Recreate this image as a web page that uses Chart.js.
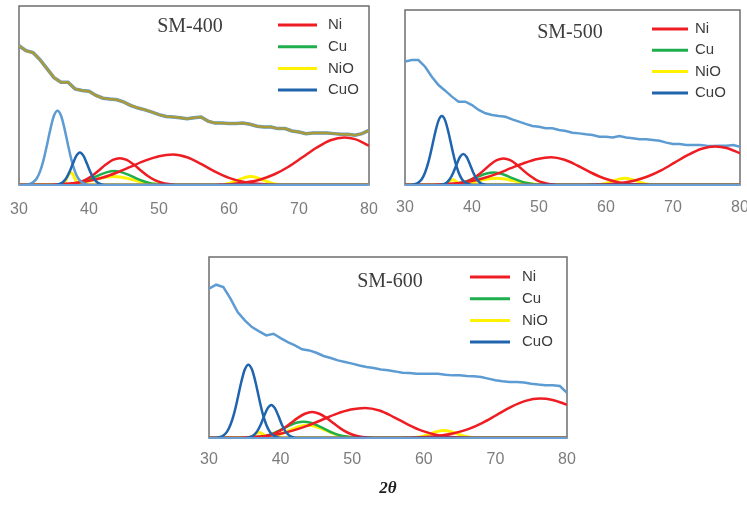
<!DOCTYPE html>
<html>
<head>
<meta charset="utf-8">
<script src="https://cdn.jsdelivr.net/npm/chart.js@4.4.0/dist/chart.umd.min.js"></script>
<style>
  html, body { margin: 0; padding: 0; background: #fff; overflow: hidden; width: 747px; height: 506px; }
  canvas { position: absolute; }
</style>
</head>
<body>
<canvas id="c400" width="385" height="228" style="left:0;top:0"></canvas>
<canvas id="c500" width="365" height="228" style="left:390px;top:0"></canvas>
<canvas id="c600" width="400" height="261" style="left:190px;top:245px"></canvas>
<script>
// 2theta grid of the measured patterns (deg)
const thetaDeg = [30, 31, 32, 33, 34, 35, 36, 37, 38, 39, 40, 41, 42, 43, 44, 45, 46, 47, 48, 49,
  50, 51, 52, 53, 54, 55, 56, 57, 58, 59, 60, 61, 62, 63, 64, 65, 66, 67, 68, 69,
  70, 71, 72, 73, 74, 75, 76, 77, 78, 79, 80];
const xTicks = [30, 40, 50, 60, 70, 80];
const phaseNames = ['Ni', 'Cu', 'NiO', 'CuO'];

// measured patterns (a.u., 0-100 of the plot height)
const bg400 = [77.8, 75, 74, 70, 65, 60, 57.4, 57.4, 53.7, 52.8, 52.4, 50, 48.5, 48, 47.6, 46.3, 44.4, 43, 42, 40.7,
  39.3, 38.3, 38, 37.6, 37, 37.6, 38, 35.7, 34.6, 34.6, 34.3, 34.3, 34.6, 33.9, 32.8, 32.4, 32.4, 31.5, 31.5, 30.2,
  29.6, 28.7, 29, 29, 29, 28.7, 28.3, 28.3, 27.8, 28.7, 30.5];
const bg500 = [70.5, 71.4, 71.4, 67.6, 61.9, 57.1, 53.9, 50.5, 47.6, 47.6, 45.7, 42.9, 41, 40, 39.4, 39, 37.5, 36.2, 34.9, 33.7,
  33.3, 32.4, 32.4, 31.4, 30.9, 29.9, 29.5, 29, 28.6, 27.6, 27.6, 27.2, 28, 27.2, 26.7, 26.1, 26.1, 25.7, 25.3, 24.2,
  23.4, 23.4, 22.9, 22.9, 22.9, 22.5, 22.3, 22.5, 22.5, 22.9, 21.9];
const bg600 = [82.5, 84.7, 83.4, 77, 69.6, 65, 61.3, 58.9, 56.7, 57.6, 55.2, 53, 51.2, 49, 48.4, 47.1, 45.3, 44.2, 42.9, 42,
  41.1, 40.1, 39.2, 38.7, 37.9, 37.4, 36.8, 36.1, 35.9, 35.5, 35.5, 35.5, 35.5, 35, 34.6, 34.6, 34.3, 34.1, 33.7, 32.8,
  31.9, 31.3, 30.9, 30.9, 30.6, 30, 29.5, 29.1, 29.1, 28.7, 25];

// fitted peaks, [2theta, intensity]
// SM-400
const cuo400a = [[30,0],[31,0],[31.5,0.5],[32,1.5],[32.5,3.5],[33,7.5],[33.5,13.9],[34,22.4],[34.5,31.5],[35,38.8],[35.5,41.5],[36,38.8],[36.5,31.5],[37,22.4],[37.5,13.9],[38,7.5],[38.5,3.5],[39,1.5],[39.5,0.5],[40,0],[80,0]];
const cuo400b = [[30,0],[35.2,0],[35.7,0.4],[36.2,1.4],[36.7,3.5],[37.2,7.2],[37.7,12],[38.2,16.4],[38.7,18.2],[39.2,16.4],[39.7,12],[40.2,7.2],[40.7,3.5],[41.2,1.4],[41.7,0.4],[42.2,0],[80,0]];
const ni400a = [[30,0],[36.4,0],[37.4,0.5],[38.4,1.3],[39.4,2.7],[40.4,5],[41.4,8.1],[42.4,11.4],[43.4,14],[44.4,15],[45.4,14],[46.4,11.4],[47.4,8.1],[48.4,5],[49.4,2.7],[50.4,1.3],[51.4,0.5],[52.4,0],[80,0]];
const ni400b = [[30,0],[34,0],[36,0.5],[38,1.1],[40,2.3],[42,4.2],[44,7],[46,10.3],[48,13.6],[50,16.1],[52,17],[54,15.5],[56,11.8],[58,7.5],[60,4],[62,1.8],[64,0.7],[66,0.2],[67,0],[80,0]];
const ni400c = [[30,0],[56.5,0],[58.5,0.2],[60.5,0.6],[62.5,1.5],[64.5,3.1],[66.5,6],[68.5,10.2],[70.5,15.5],[72.5,20.8],[74.5,25],[76.5,26.5],[78,25.6],[80,22]];
const cu400 = [[30,0],[35.6,0],[36.6,0.2],[37.6,0.5],[38.6,1.2],[39.6,2.4],[40.6,4],[41.6,5.8],[42.6,7.2],[43.6,7.8],[44.6,7.2],[45.6,5.8],[46.6,4],[47.6,2.4],[48.6,1.2],[49.6,0.5],[50.6,0.2],[51.6,0],[80,0]];
const nio400a = [[30,0],[35.9,0],[36.15,0.3],[36.4,0.9],[36.65,2.3],[36.9,4.3],[37.15,6.2],[37.4,7],[37.65,6.2],[37.9,4.3],[38.15,2.3],[38.4,0.9],[38.65,0.3],[38.9,0],[80,0]];
const nio400b = [[30,0],[35.5,0],[36.5,0.2],[37.5,0.5],[38.5,1],[39.5,1.7],[40.5,2.7],[41.5,3.7],[42.5,4.5],[43.5,4.8],[44.5,4.5],[45.5,3.7],[46.5,2.7],[47.5,1.7],[48.5,1],[49.5,0.5],[50.5,0.2],[51.5,0],[80,0]];
const nio400c = [[30,0],[58.1,0],[59.1,0.3],[60.1,1],[61.1,2.4],[62.1,4],[63.1,4.8],[64.1,4],[65.1,2.4],[66.1,1],[67.1,0.3],[68.1,0],[80,0]];
// SM-500
const cuo500a = [[30,0],[31,0],[31.5,0.5],[32,1.4],[32.5,3.3],[33,7.1],[33.5,13.2],[34,21.2],[34.5,29.9],[35,36.8],[35.5,39.4],[36,36.8],[36.5,29.9],[37,21.2],[37.5,13.2],[38,7.1],[38.5,3.3],[39,1.4],[39.5,0.5],[40,0],[80,0]];
const cuo500b = [[30,0],[35.2,0],[35.7,0.4],[36.2,1.3],[36.7,3.4],[37.2,7],[37.7,11.7],[38.2,16],[38.7,17.7],[39.2,16],[39.7,11.7],[40.2,7],[40.7,3.4],[41.2,1.3],[41.7,0.4],[42.2,0],[80,0]];
const ni500a = [[30,0],[36.7,0],[37.7,0.5],[38.7,1.3],[39.7,2.7],[40.7,5.1],[41.7,8.2],[42.7,11.6],[43.7,14.2],[44.7,15.2],[45.7,14.2],[46.7,11.6],[47.7,8.2],[48.7,5.1],[49.7,2.7],[50.7,1.3],[51.7,0.5],[52.7,0],[80,0]];
const ni500b = [[30,0],[33.8,0],[35.8,0.5],[37.8,1],[39.8,2.1],[41.8,4],[43.8,6.5],[45.8,9.6],[47.8,12.6],[49.8,14.9],[51.8,15.8],[53.8,14.4],[55.8,11],[57.8,7],[59.8,3.7],[61.8,1.6],[63.8,0.6],[65.8,0.2],[66.8,0],[80,0]];
const ni500c = [[30,0],[56.3,0],[58.3,0.2],[60.3,0.5],[62.3,1.2],[64.3,2.6],[66.3,5],[68.3,8.5],[70.3,12.9],[72.3,17.3],[74.3,20.7],[76.3,22],[78,21.1],[80,18.1]];
const cu500 = [[30,0],[35.2,0],[36.2,0.2],[37.2,0.5],[38.2,1.1],[39.2,2.2],[40.2,3.6],[41.2,5.3],[42.2,6.6],[43.2,7.1],[44.2,6.6],[45.2,5.3],[46.2,3.6],[47.2,2.2],[48.2,1.1],[49.2,0.5],[50.2,0.2],[51.2,0],[80,0]];
const nio500a = [[30,0],[35.3,0],[35.6,0.13],[35.9,0.4],[36.2,0.95],[36.5,1.8],[36.8,2.65],[37.1,3],[37.4,2.65],[37.7,1.8],[38,0.95],[38.3,0.4],[38.6,0.13],[38.9,0],[80,0]];
const nio500b = [[30,0],[35.6,0],[36.6,0.2],[37.6,0.4],[38.6,0.8],[39.6,1.4],[40.6,2.1],[41.6,2.9],[42.6,3.6],[43.6,3.8],[44.6,3.6],[45.6,2.9],[46.6,2.1],[47.6,1.4],[48.6,0.8],[49.6,0.4],[50.6,0.2],[51.6,0],[80,0]];
const nio500c = [[30,0],[57.8,0],[58.8,0.2],[59.8,0.8],[60.8,1.9],[61.8,3.2],[62.8,3.8],[63.8,3.2],[64.8,1.9],[65.8,0.8],[66.8,0.2],[67.8,0],[80,0]];
// SM-600
const cuo600a = [[30,0],[31,0],[31.5,0.5],[32,1.4],[32.5,3.4],[33,7.3],[33.5,13.5],[34,21.8],[34.5,30.8],[35,37.8],[35.5,40.5],[36,37.8],[36.5,30.8],[37,21.8],[37.5,13.5],[38,7.3],[38.5,3.4],[39,1.4],[39.5,0.5],[40,0],[80,0]];
const cuo600b = [[30,0],[35.2,0],[35.7,0.4],[36.2,1.4],[36.7,3.5],[37.2,7.2],[37.7,12.1],[38.2,16.5],[38.7,18.3],[39.2,16.5],[39.7,12.1],[40.2,7.2],[40.7,3.5],[41.2,1.4],[41.7,0.4],[42.2,0],[80,0]];
const ni600a = [[30,0],[35.4,0],[36.4,0.2],[37.4,0.6],[38.4,1.4],[39.4,2.9],[40.4,5.2],[41.4,8.1],[42.4,11.1],[43.4,13.4],[44.4,14.3],[45.4,13.4],[46.4,11.1],[47.4,8.1],[48.4,5.2],[49.4,2.9],[50.4,1.4],[51.4,0.6],[52.4,0.2],[53.4,0],[80,0]];
const ni600b = [[30,0],[33.8,0],[35.8,0.5],[37.8,1.1],[39.8,2.2],[41.8,4.2],[43.8,6.8],[45.8,10.1],[47.8,13.3],[49.8,15.7],[51.8,16.6],[53.8,15.2],[55.8,11.6],[57.8,7.4],[59.8,3.9],[61.8,1.7],[63.8,0.6],[65.8,0.2],[66.8,0],[80,0]];
const ni600c = [[30,0],[56.2,0],[58.2,0.2],[60.2,0.5],[62.2,1.2],[64.2,2.6],[66.2,4.9],[68.2,8.4],[70.2,12.8],[72.2,17.2],[74.2,20.5],[76.2,21.8],[78,21],[80,18.4]];
const cu600 = [[30,0],[35.2,0],[36.2,0.3],[37.2,0.8],[38.2,1.6],[39.2,3],[40.2,4.9],[41.2,6.8],[42.2,8.4],[43.2,9],[44.2,8.4],[45.2,6.8],[46.2,4.9],[47.2,3],[48.2,1.6],[49.2,0.8],[50.2,0.3],[51.2,0],[80,0]];
const nio600a = [[30,0],[35.2,0],[35.5,0.13],[35.8,0.4],[36.1,0.95],[36.4,1.8],[36.7,2.65],[37,3],[37.3,2.65],[37.6,1.8],[37.9,0.95],[38.2,0.4],[38.5,0.13],[38.8,0],[80,0]];
const nio600b = [[30,0],[35.8,0],[36.8,0.1],[37.8,0.4],[38.8,0.9],[39.8,1.9],[40.8,3.4],[41.8,5.1],[42.8,6.5],[43.8,7],[44.8,6.5],[45.8,5.1],[46.8,3.4],[47.8,1.9],[48.8,0.9],[49.8,0.4],[50.8,0.1],[51.8,0],[80,0]];
const nio600c = [[30,0],[57.8,0],[58.8,0.3],[59.8,0.9],[60.8,2.1],[61.8,3.5],[62.8,4.2],[63.8,3.5],[64.8,2.1],[65.8,0.9],[66.8,0.3],[67.8,0],[80,0]];

const RED = '#ee1d23', GREEN = '#1fae4c', YELLOW = '#fff200', DARKBLUE = '#2064ad', LIGHTBLUE = '#5d9bd3', OLIVE = '#ab9a3a';

// frame, sample name and legend drawn inside the plot area
const panelDecor = {
  id: 'panelDecor',
  beforeDatasetsDraw(chart, args, o) {
    const a = chart.chartArea, ctx = chart.ctx;
    ctx.save();
    ctx.strokeStyle = '#6e6e6e';
    ctx.lineWidth = 1.5;
    ctx.strokeRect(a.left, a.top, a.right - a.left, a.bottom - a.top);
    ctx.restore();
  },
  afterDatasetsDraw(chart, args, o) {
    const a = chart.chartArea, ctx = chart.ctx;
    ctx.save();
    ctx.strokeStyle = '#6a9fd5';
    ctx.lineWidth = 2;
    ctx.beginPath();
    ctx.moveTo(a.left, a.bottom);
    ctx.lineTo(a.right, a.bottom);
    ctx.stroke();

    ctx.fillStyle = '#3c3c3c';
    ctx.font = '20px "Liberation Serif", "Times New Roman", serif';
    ctx.textAlign = 'center';
    ctx.textBaseline = 'middle';
    ctx.fillText(o.sample, a.left + o.nameX, a.top + o.nameY);

    ctx.font = '15px "Liberation Sans", Arial, sans-serif';
    ctx.textAlign = 'left';
    phaseNames.forEach((p, i) => {
      const ds = chart.data.datasets.find(d => d.label === p);
      const y = a.top + o.rowY + i * o.rowGap;
      ctx.strokeStyle = ds.borderColor;
      ctx.lineWidth = 3;
      ctx.beginPath();
      ctx.moveTo(a.left + o.lineX0, y);
      ctx.lineTo(a.left + o.lineX1, y);
      ctx.stroke();
      ctx.fillStyle = '#3c3c3c';
      ctx.fillText(p, a.left + o.textX, y);
    });
    ctx.restore();
  }
};

function peak(label, data, color, width) {
  return { label, data, borderColor: color, borderWidth: width || 2.5, pointRadius: 0, cubicInterpolationMode: 'monotone' };
}

function pattern(label, values, color, width) {
  return { label, data: thetaDeg.map((t, i) => ({ x: t, y: values[i] })), borderColor: color, borderWidth: width, pointRadius: 0, tension: 0 };
}

function makePanel(id, sample, datasets, look) {
  new Chart(document.getElementById(id), {
    type: 'line',
    data: { datasets },
    options: {
      responsive: false,
      animation: false,
      events: [],
      layout: { padding: look.pad },
      scales: {
        x: {
          type: 'linear', min: 30, max: 80,
          afterBuildTicks: s => { s.ticks = xTicks.map(v => ({ value: v })); },
          afterFit: s => { s.height = look.axisH; },
          ticks: { color: '#7d7d7d', padding: 0, maxRotation: 0,
            font: { family: '"Liberation Sans", Arial, sans-serif', size: 16 } },
          // invisible tick marks only push the labels down
          grid: { display: true, drawOnChartArea: false, drawTicks: true, tickLength: look.tickPad, tickColor: 'rgba(0,0,0,0)' },
          border: { display: false },
          title: look.title || { display: false }
        },
        y: { min: 0, max: 100, display: false }
      },
      plugins: {
        legend: { display: false },
        tooltip: { enabled: false },
        panelDecor: Object.assign({ sample }, look.decor)
      }
    },
    plugins: [panelDecor]
  });
}

makePanel('c400', 'SM-400', [
  peak('CuO', cuo400b, DARKBLUE),
  peak('CuO', cuo400a, LIGHTBLUE),
  peak('Ni', ni400a, RED),
  peak('Ni', ni400b, RED),
  peak('Ni', ni400c, RED),
  peak('NiO', nio400a, YELLOW, 3),
  peak('Cu', cu400, GREEN),
  peak('NiO', nio400b, YELLOW, 3),
  peak('NiO', nio400c, YELLOW, 3),
  pattern('SM-400', bg400, OLIVE, 2.5),
  pattern('SM-400', bg400, LIGHTBLUE, 3.5)
], {
  pad: { left: 19, top: 6, right: 16, bottom: 0 }, axisH: 43, tickPad: 15,
  decor: { nameX: 171, nameY: 21, lineX0: 259, lineX1: 298, textX: 309, rowY: 19, rowGap: 21.7 }
});

makePanel('c500', 'SM-500', [
  peak('CuO', cuo500b, DARKBLUE),
  peak('CuO', cuo500a, DARKBLUE),
  peak('Ni', ni500a, RED),
  peak('Ni', ni500b, RED),
  peak('Ni', ni500c, RED),
  peak('NiO', nio500a, YELLOW, 3),
  peak('Cu', cu500, GREEN),
  peak('NiO', nio500b, YELLOW, 3),
  peak('NiO', nio500c, YELLOW, 3),
  pattern('SM-500', bg500, LIGHTBLUE, 2.5)
], {
  pad: { left: 15, top: 10, right: 15, bottom: 0 }, axisH: 43, tickPad: 13,
  decor: { nameX: 165, nameY: 23, lineX0: 247, lineX1: 283, textX: 290, rowY: 19, rowGap: 21.3 }
});

makePanel('c600', 'SM-600', [
  peak('CuO', cuo600b, DARKBLUE),
  peak('CuO', cuo600a, DARKBLUE),
  peak('Ni', ni600a, RED),
  peak('Ni', ni600b, RED),
  peak('Ni', ni600c, RED),
  peak('NiO', nio600a, YELLOW, 3),
  peak('Cu', cu600, GREEN),
  peak('NiO', nio600b, YELLOW, 3),
  peak('NiO', nio600c, YELLOW, 3),
  pattern('SM-600', bg600, LIGHTBLUE, 2.5)
], {
  pad: { left: 19, top: 12, right: 23, bottom: 0 }, axisH: 68, tickPad: 12,
  title: { display: true, text: '2\u03B8', color: '#1e1e1e', padding: { top: 4, bottom: 7 },
    font: { family: '"Liberation Serif", "Times New Roman", serif', size: 17, style: 'italic', weight: 'bold' } },
  decor: { nameX: 181, nameY: 25, lineX0: 261, lineX1: 301, textX: 313, rowY: 20, rowGap: 21.7 }
});
</script>
</body>
</html>
